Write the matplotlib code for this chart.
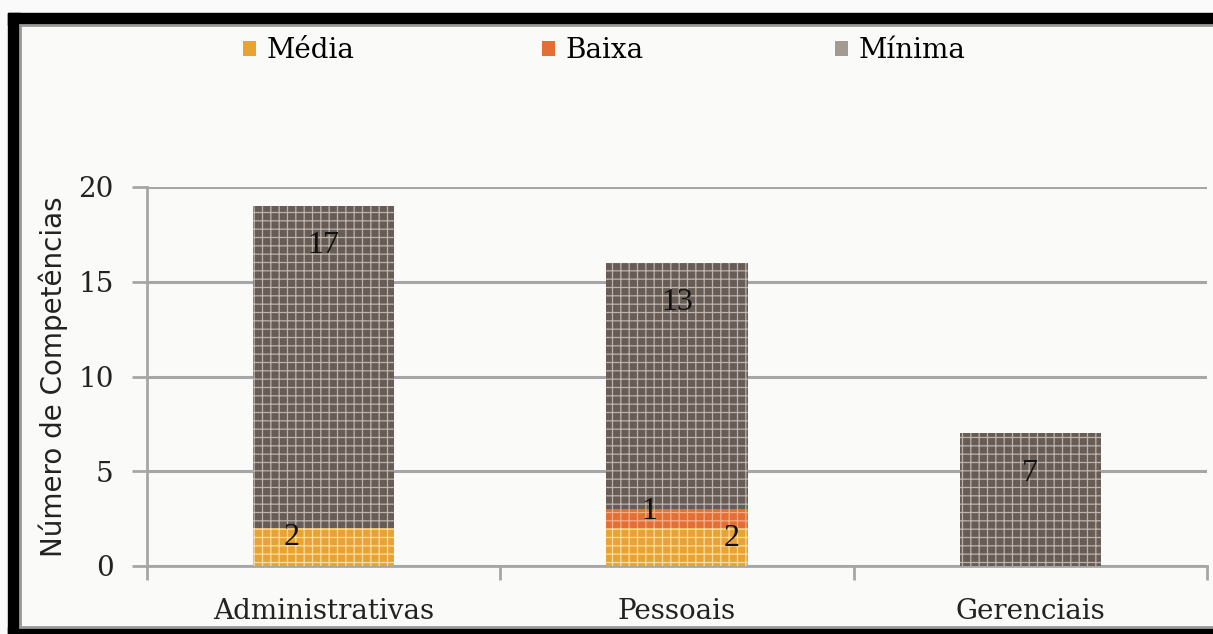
import matplotlib
matplotlib.use("Agg")
import matplotlib.pyplot as plt
from matplotlib.patches import Rectangle, Patch
import numpy as np

categories = ["Administrativas", "Pessoais", "Gerenciais"]
media = [2, 2, 0]
baixa = [0, 1, 0]
minima = [17, 13, 7]
series_names = ["Média", "Baixa", "Mínima"]
yticks = [0, 5, 10, 15, 20]

W, H = 1213, 634
fig = plt.figure(figsize=(W / 100, H / 100), dpi=100)
fig.patch.set_facecolor("#fafafa")

def fx(px): return px / W
def fy(py): return 1 - py / H

# black frame
fig.patches.append(Rectangle((fx(8), fy(634)), fx(12), fy(13) - fy(634), transform=fig.transFigure,
                             color="black", zorder=-5))
fig.patches.append(Rectangle((fx(8), fy(25)), 1, fy(13) - fy(25), transform=fig.transFigure, color="black", zorder=-5))
fig.patches.append(Rectangle((fx(8), fy(634)), 1, fy(627) - fy(634), transform=fig.transFigure, color="black", zorder=-5))
fig.patches.append(Rectangle((fx(20), fy(627)), 1, fy(25) - fy(627), transform=fig.transFigure,
                             facecolor="#fafaf8", edgecolor="#9a9a9a", linewidth=2, zorder=-4))

ax = fig.add_axes([fx(147), fy(566), fx(1207) - fx(147), fy(187) - fy(566)])
ax.set_facecolor("none")
ax.set_zorder(2)

plt.rcParams["hatch.linewidth"] = 0.9
font = "DejaVu Serif"
lfont = "Liberation Serif"

x = np.arange(len(categories))
w = 0.40
c_media = "#e9a332"
c_baixa = "#e46f35"
c_min = "#675d56"

bm = ax.bar(x, media, w, color=c_media, edgecolor="#f7dca8", hatch="++", linewidth=0, zorder=3)
bb = ax.bar(x, baixa, w, bottom=media, color=c_baixa, edgecolor="#f2ae88", hatch="++", linewidth=0, zorder=3)
bottom2 = [a + b for a, b in zip(media, baixa)]
bn = ax.bar(x, minima, w, bottom=bottom2, color=c_min, edgecolor="#bdb4ac", hatch="++", linewidth=0, zorder=3)

def lab(xc, ytop, val, dx, dy):
    ax.text(xc + dx, ytop - dy, str(val), ha="center", va="center", fontsize=23, family=lfont, color="#111111", zorder=5)

for i in range(len(categories)):
    if minima[i]:
        lab(x[i], bottom2[i] + minima[i], minima[i], 0.0, 2.1)
if media[0]:
    lab(x[0], media[0], media[0], -0.09, 0.5)
if baixa[1]:
    lab(x[1], media[1] + baixa[1], baixa[1], -0.08, 0.15)
if media[1]:
    lab(x[1], media[1], media[1], 0.155, 0.55)

ax.set_xlim(-0.5, 2.5)
ax.set_ylim(0, 20)
ax.set_yticks(yticks)
ax.set_yticklabels([str(t) for t in yticks], fontsize=20, family=font, color="#222222")
ax.yaxis.grid(True, color="#a6a6a6", linewidth=2.2, zorder=0)
ax.set_axisbelow(True)
ax.set_xticks([-0.5, 0.5, 1.5, 2.5], minor=False)
ax.set_xticklabels([])
ax.set_xticks(x, minor=True)
ax.set_xticklabels(categories, minor=True, fontsize=20, family=font, color="#222222")
ax.tick_params(axis="x", which="minor", length=0, pad=23)
ax.tick_params(axis="x", which="major", length=10, width=2, color="#a6a6a6", direction="out")
ax.tick_params(axis="y", length=11, width=2, color="#a6a6a6", direction="out", pad=13)
for s in ["top", "right"]:
    ax.spines[s].set_visible(False)
for s in ["left", "bottom"]:
    ax.spines[s].set_color("#a6a6a6")
    ax.spines[s].set_linewidth(2)
ax.set_ylabel("Número de Competências", fontsize=20, family="DejaVu Sans", color="#222222", labelpad=7)

# legend entries, one per series, placed like the original
leg_colors = [c_media, c_baixa, "#a39a93"]
leg_x = [244, 543, 836]
for name, col, px in zip(series_names, leg_colors, leg_x):
    fig.legend(handles=[Patch(facecolor=col, edgecolor="none")], labels=[name], loc="center left",
               bbox_to_anchor=(fx(px - 1), fy(51)), frameon=False, prop={"family": font, "size": 20},
               handlelength=0.45, handleheight=0.45, handletextpad=0.4, borderpad=0, borderaxespad=0)

fig.savefig("out.png", dpi=100, facecolor=fig.get_facecolor())
